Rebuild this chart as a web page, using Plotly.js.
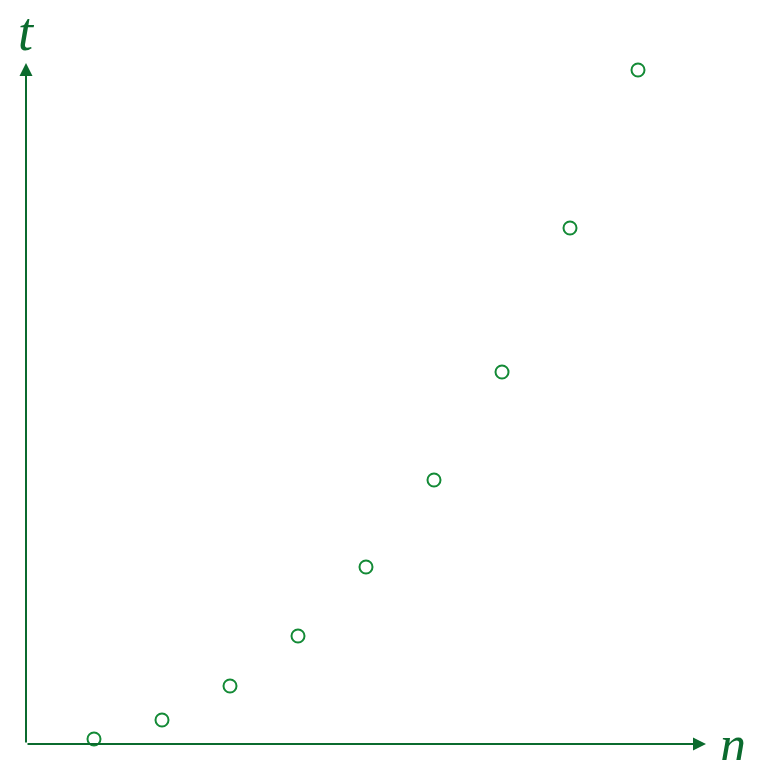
<!DOCTYPE html>
<html><head><meta charset="utf-8">
<script src="https://cdn.plot.ly/plotly-3.0.1.min.js"></script>
<style>html,body{margin:0;padding:0;background:#fff}#c{width:757px;height:760px}</style>
</head><body><div id="c"></div>
<script>
const nValues = [1, 2, 3, 4, 5, 6, 7, 8, 9];
const tValues = [0.5, 2.4, 5.8, 10.8, 17.7, 26.4, 37.2, 51.6, 67.4];
const xLabel = 'n';
const yLabel = 't';

const axisColor = '#0b6b2e';
const markColor = '#138a36';

const trace = {
  x: nValues, y: tValues, type: 'scatter', mode: 'markers',
  marker: {symbol: 'circle-open', size: 13, color: markColor, line: {width: 2, color: markColor}},
  hoverinfo: 'none'
};

const layout = {
  width: 757, height: 760,
  margin: {l: 0, r: 0, t: 0, b: 0},
  paper_bgcolor: '#fff', plot_bgcolor: '#fff',
  showlegend: false,
  xaxis: {range: [-26/68, 731/68], visible: false, fixedrange: true},
  yaxis: {range: [-1.6, 74.4], visible: false, fixedrange: true},
  annotations: [
    {x: 10, y: 0, ax: 0, ay: 0, xref: 'x', yref: 'y', axref: 'x', ayref: 'y',
     showarrow: true, arrowhead: 2, arrowsize: 1.3, arrowwidth: 2, arrowcolor: axisColor, text: ''},
    {x: 0, y: 68.1, ax: 0, ay: 0, xref: 'x', yref: 'y', axref: 'x', ayref: 'y',
     showarrow: true, arrowhead: 2, arrowsize: 1.3, arrowwidth: 2, arrowcolor: axisColor, text: ''},
    {x: 10.4, y: 0, xref: 'x', yref: 'y', text: xLabel, showarrow: false,
     xanchor: 'center', yanchor: 'middle',
     font: {family: 'Liberation Serif', size: 52, color: axisColor, style: 'italic'}},
    {x: 0, y: 71.2, xref: 'x', yref: 'y', text: yLabel, showarrow: false,
     xanchor: 'center', yanchor: 'middle',
     font: {family: 'Liberation Serif', size: 54, color: axisColor, style: 'italic'}}
  ]
};
Plotly.newPlot('c', [trace], layout, {staticPlot: true, displayModeBar: false});
</script></body></html>
